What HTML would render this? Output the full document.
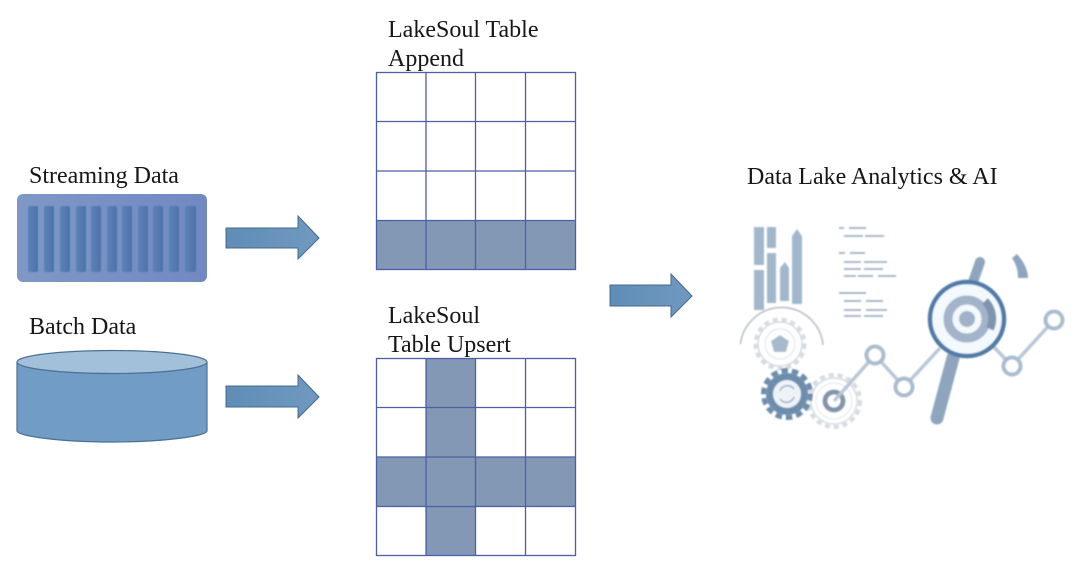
<!DOCTYPE html>
<html>
<head>
<meta charset="utf-8">
<style>
html,body{margin:0;padding:0;background:#fff;width:1080px;height:568px;overflow:hidden}
svg{display:block}
text{font-family:"Liberation Serif",serif;font-size:24px;fill:#161616}
</style>
</head>
<body>
<svg width="1080" height="568" viewBox="0 0 1080 568" xmlns="http://www.w3.org/2000/svg">
<defs>
<linearGradient id="box" x1="0" y1="0" x2="1" y2="0"><stop offset="0" stop-color="#7e98c6"/><stop offset="1" stop-color="#7288c2"/></linearGradient>
<linearGradient id="slot" x1="0" y1="0" x2="1" y2="0"><stop offset="0" stop-color="#5c83b8"/><stop offset="1" stop-color="#4c73a8"/></linearGradient>
<linearGradient id="arr" x1="0" y1="0" x2="1" y2="0"><stop offset="0" stop-color="#5f8db5"/><stop offset="1" stop-color="#7099c0"/></linearGradient>
<filter id="b"><feGaussianBlur stdDeviation="0.8"/></filter>
<filter id="b2"><feGaussianBlur stdDeviation="0.6"/></filter>
<filter id="t"><feGaussianBlur stdDeviation="0.35"/></filter>
</defs>

<g filter="url(#t)">
<text x="29" y="183">Streaming Data</text>
<text x="29" y="334">Batch Data</text>
<text x="388" y="37">LakeSoul Table</text>
<text x="388" y="66">Append</text>
<text x="388" y="323">LakeSoul</text>
<text x="388" y="352">Table Upsert</text>
<text x="747" y="184">Data Lake Analytics &amp; AI</text>
</g>

<!-- Streaming -->
<rect x="17" y="194" width="190" height="88" rx="6" fill="url(#box)" filter="url(#t)"/>
<g fill="url(#slot)" filter="url(#b2)">
<rect x="28" y="206" width="10" height="66" rx="2"/>
<rect x="44" y="206" width="10" height="66" rx="2"/>
<rect x="60" y="206" width="10" height="66" rx="2"/>
<rect x="76" y="206" width="10" height="66" rx="2"/>
<rect x="91" y="206" width="10" height="66" rx="2"/>
<rect x="107" y="206" width="10" height="66" rx="2"/>
<rect x="122" y="206" width="10" height="66" rx="2"/>
<rect x="138" y="206" width="10" height="66" rx="2"/>
<rect x="153" y="206" width="10" height="66" rx="2"/>
<rect x="169" y="206" width="10" height="66" rx="2"/>
<rect x="185" y="206" width="11" height="66" rx="2"/>
</g>

<g filter="url(#t)">
<!-- Batch cylinder -->
<path d="M17 362 V431 C17 436 60 442 112 442 C164 442 207 436 207 431 V362 Z" fill="#709cc5" stroke="#4b6f96" stroke-width="1.2"/>
<ellipse cx="112" cy="362" rx="95" ry="11.5" fill="#a3c0da" stroke="#4b6f96" stroke-width="1.2"/>

<!-- Arrows -->
<g fill="url(#arr)" stroke="#44688f" stroke-width="1">
<path d="M226 228 H298 V216 L319 238 L298 259 V248 H226 Z"/>
<path d="M226 386 H298 V375 L319 397 L298 418 V407 H226 Z"/>
<path d="M610 285 H671 V274 L692 296 L671 317 V306 H610 Z"/>
</g>

<!-- Append grid -->
<rect x="376" y="220" width="200" height="49" fill="#8298b4"/>
<g fill="none" stroke="#4d5fa8" stroke-width="1.3">
<rect x="376.5" y="72.5" width="199" height="197"/>
<path d="M426 72V269M475.500 72V269M525.500 72V269M376 121.500H576M376 171H576M376 220.500H576"/>
</g>

<!-- Upsert grid -->
<rect x="426" y="358" width="50" height="198" fill="#8298b4"/>
<rect x="376" y="457" width="200" height="50" fill="#8298b4"/>
<g fill="none" stroke="#4d5fa8" stroke-width="1.3">
<rect x="376.500" y="358.500" width="199" height="197"/>
<path d="M426 358V555M475.500 358V555M525.500 358V555M376 407.500H576M376 457H576M376 506.500H576"/>
</g>
</g>

<!-- Analytics illustration -->
<g filter="url(#b)">
<g fill="#a3b7cc">
<rect x="754" y="227" width="10" height="38"/>
<rect x="754" y="270" width="10" height="40"/>
<rect x="767" y="227" width="9" height="21"/>
<rect x="767" y="253" width="9" height="50"/>
<path d="M780 301V268L785 262L789 268V301Z"/>
<path d="M792 304V236L797 229L802 236V304Z"/>
</g>
<path d="M740.500 344 A41.500 41.500 0 0 1 823 345" fill="#fff" stroke="#aeb7c2" stroke-width="1.500"/>

<g stroke="#8ea3ba" stroke-width="1.500">
<path d="M839 228H844M849 228H866M844 236H863M865 236H884"/>
<path d="M839 253H845M850 253H865M844 262H861M864 262H887M844 269H861M864 269H883M844 276H856M858 276H873M878 276H896"/>
<path d="M839 293H866M844 301H861M866 301H883M844 310H861M866 310H887M844 316H861M864 316H883"/>
</g>

<!-- pale gears -->
<circle cx="780" cy="344" r="22" fill="#fff" stroke="#d5dbe2" stroke-width="1.500"/>
<circle cx="780" cy="344" r="24.500" fill="none" stroke="#d5dbe2" stroke-width="4" stroke-dasharray="5 4"/>
<circle cx="780" cy="344" r="15" fill="none" stroke="#dbe0e6" stroke-width="1"/>
<path d="M780 335L789 341L786 352H774L771 341Z" fill="#a7b9cc"/>
<circle cx="834" cy="401" r="23" fill="#fff" stroke="#d5dbe2" stroke-width="1.500"/>
<circle cx="834" cy="401" r="26" fill="none" stroke="#d5dbe2" stroke-width="4" stroke-dasharray="5 4"/>
<circle cx="834" cy="401" r="18" fill="none" stroke="#e0e5ea" stroke-width="1"/>
<circle cx="834" cy="401" r="9" fill="#fff" stroke="#8194ab" stroke-width="5"/>

<!-- dark gear -->
<circle cx="787" cy="394" r="21" fill="#6d8dac"/>
<circle cx="787" cy="394" r="23.500" fill="none" stroke="#6d8dac" stroke-width="5" stroke-dasharray="6.500 4"/>
<circle cx="787" cy="394" r="14" fill="#eef3f8"/>
<path d="M780 391A8 8 0 0 1 794 389M794 397A8 8 0 0 1 780 399" fill="none" stroke="#8fa3b8" stroke-width="1.300"/>

<!-- chain -->
<path d="M834 401L875 355L904 387L940 348M992 345L1012 366L1054 320" fill="none" stroke="#b7c7d7" stroke-width="3.500"/>
<g fill="#fff" stroke="#a9bbce" stroke-width="4">
<circle cx="875" cy="355" r="8.500"/>
<circle cx="904" cy="387" r="8.500"/>
<circle cx="1012" cy="366" r="8.500"/>
<circle cx="1054" cy="320" r="8.500"/>
</g>

<!-- magnifier -->
<path d="M953 358L937 418" stroke="#8ea5bd" stroke-width="13" stroke-linecap="round"/>
<path d="M973 282L980 262" stroke="#8ea5bd" stroke-width="10" stroke-linecap="round"/>
<path d="M1012 258L1017 254C1024 262 1028 270 1028 278H1018C1018 270 1016 264 1012 258Z" fill="#8ea5bd"/>
<circle cx="967" cy="319" r="37" fill="#f3f9fd" stroke="#4f7aa8" stroke-width="4.500"/>
<circle cx="967" cy="319" r="19" fill="none" stroke="#a3b4ca" stroke-width="9"/>
<path d="M985 301A25 25 0 0 1 990 329" fill="none" stroke="#7f95af" stroke-width="8"/>
<circle cx="967" cy="319" r="8" fill="#9fb2c8"/>
</g>
</svg>
</body>
</html>
